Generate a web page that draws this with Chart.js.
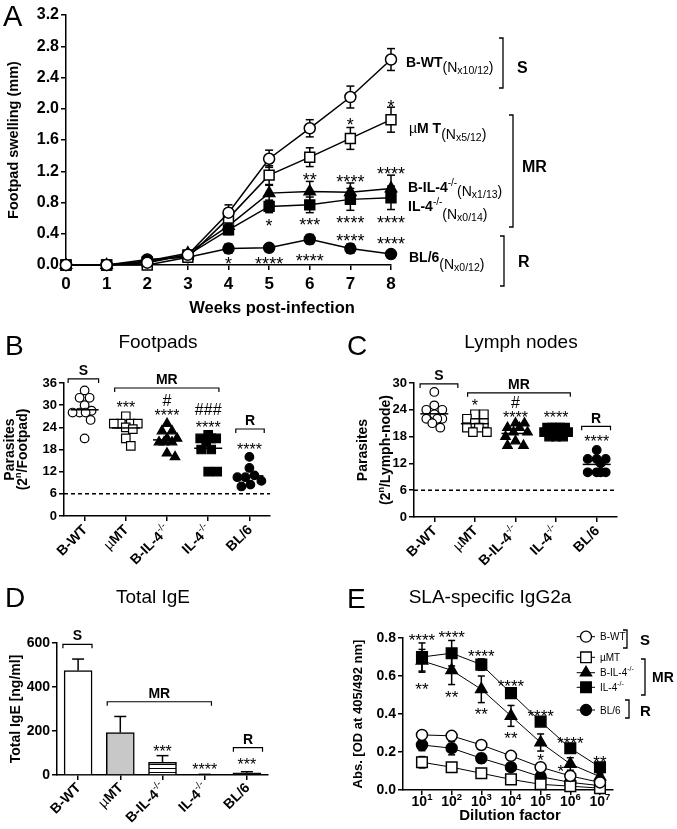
<!DOCTYPE html>
<html>
<head>
<meta charset="utf-8">
<script src="https://cdn.jsdelivr.net/npm/chart.js"></script>
<style>
  html, body { margin: 0; padding: 0; background: #fff; }
  #wrap { position: relative; width: 677px; height: 829px; overflow: hidden; background: #fff; }
  canvas { position: absolute; }
</style>
</head>
<body>
<div id="wrap">
  <canvas id="chartA" width="677" height="330" style="left:0px;top:0px"></canvas>
  <canvas id="chartB" width="338" height="255" style="left:0px;top:325px"></canvas>
  <canvas id="chartC" width="339" height="255" style="left:338px;top:325px"></canvas>
  <canvas id="chartD" width="338" height="249" style="left:0px;top:580px"></canvas>
  <canvas id="chartE" width="339" height="249" style="left:338px;top:580px"></canvas>
</div>
<script>
const FONT = '"Liberation Sans", Arial, Helvetica, sans-serif';
function F(size, bold) { return (bold ? 'bold ' : '') + size + 'px ' + FONT; }
Chart.defaults.font.family = FONT;
Chart.defaults.color = '#000';

// ---------- A: footpad swelling (mm) ----------
const weeks = [0, 1, 2, 3, 4, 5, 6, 7, 8];
const swellBWT = [0, 0, 0.03, 0.13, 0.67, 1.36, 1.75, 2.15, 2.63];
const swellBWTErr = [0, 0, 0.02, 0.03, 0.1, 0.11, 0.11, 0.14, 0.14];
const swellMuMT = [0, 0, 0.0, 0.1, 0.6, 1.15, 1.38, 1.62, 1.86];
const swellMuMTErr = [0, 0, 0.02, 0.03, 0.12, 0.12, 0.12, 0.14, 0.16];
const swellBIL4 = [0, 0, 0.05, 0.15, 0.5, 0.92, 0.94, 0.93, 0.98];
const swellBIL4Err = [0, 0, 0.02, 0.03, 0.08, 0.1, 0.13, 0.12, 0.17];
const swellIL4 = [0, 0, 0.04, 0.13, 0.45, 0.75, 0.77, 0.84, 0.86];
const swellIL4Err = [0, 0, 0.02, 0.03, 0.06, 0.08, 0.1, 0.14, 0.15];
const swellBL6 = [0, 0, 0.07, 0.1, 0.21, 0.22, 0.33, 0.21, 0.14];
const swellBL6Err = [0, 0, 0.01, 0.02, 0.06, 0.02, 0.06, 0.06, 0.02];

// ---------- B / C: parasites (2^n) ----------
const groups = ['B-WT', 'µMT', 'B-IL-4', 'IL-4', 'BL/6'];
const fpBWT = [34, 32, 32, 30, 28.5, 28, 28, 28, 26, 21];
const fpMuMT = [27, 25, 25, 25, 25, 24, 23.5, 21, 19];
const fpBIL4 = [25, 23, 23, 21, 21, 20, 20, 20, 17, 16];
const fpIL4 = [22, 21, 21, 21, 20, 18, 18, 12, 12];
const fpBL6 = [16, 13, 11, 10.5, 10.5, 9.5, 8.5, 8];
const lnBWT = [28, 25, 24, 24, 23, 22, 22, 22, 21, 20];
const lnMuMT = [23, 23, 22, 21, 21, 20, 20, 19, 19];
const lnBIL4 = [21, 21, 20, 20, 19, 19, 18, 17, 16, 16];
const lnIL4 = [20, 20, 20, 20, 20, 19, 19, 18, 18, 18];
const lnBL6 = [15, 13, 13, 13, 12, 10, 10, 10, 10];
const detectionLimit = 6;

// ---------- D: total IgE (ng/ml) ----------
const totalIgE = [475, 193, 58, 2, 10];
const totalIgEErr = [52, 73, 30, 1, 5];

// ---------- E: SLA-specific IgG2a ----------
const dilution = [1e1, 1e2, 1e3, 1e4, 1e5, 1e6, 1e7];
const odBWT = [0.29, 0.285, 0.237, 0.18, 0.12, 0.074, 0.04];
const odBWTErr = [0.01, 0.01, 0.01, 0.01, 0.01, 0.01, 0.01];
const odMuMT = [0.146, 0.12, 0.088, 0.056, 0.03, 0.02, 0.01];
const odMuMTErr = [0.03, 0.02, 0.01, 0.01, 0.01, 0.01, 0.005];
const odBIL4 = [0.68, 0.63, 0.53, 0.39, 0.25, 0.137, 0.07];
const odBIL4Err = [0.06, 0.075, 0.07, 0.055, 0.045, 0.033, 0.015];
const odIL4 = [0.70, 0.72, 0.66, 0.51, 0.36, 0.22, 0.12];
const odIL4Err = [0.074, 0.067, 0.03, 0.01, 0.01, 0.01, 0.01];
const odBL6 = [0.237, 0.22, 0.167, 0.12, 0.07, 0.04, 0.023];
const odBL6Err = [0.03, 0.035, 0.025, 0.02, 0.01, 0.01, 0.01];

// ---------- helpers ----------
function richText(ctx, x, y, parts, align) {
  ctx.textAlign = 'left';
  ctx.textBaseline = 'alphabetic';
  let w = 0;
  parts.forEach(p => { ctx.font = p[1]; w += ctx.measureText(p[0]).width; });
  let cx = align === 'center' ? x - w / 2 : align === 'right' ? x - w : x;
  parts.forEach(p => {
    ctx.font = p[1];
    ctx.fillText(p[0], cx, y + (p[2] || 0));
    cx += ctx.measureText(p[0]).width;
  });
}
function vertText(ctx, xBase, yCenter, parts) {
  ctx.save();
  ctx.translate(xBase, yCenter);
  ctx.rotate(-Math.PI / 2);
  richText(ctx, 0, 0, parts, 'center');
  ctx.restore();
}
function mark(ctx, x, y, s, size) {
  ctx.font = F(size, false);
  ctx.textAlign = 'center';
  ctx.textBaseline = 'alphabetic';
  const off = s.indexOf('#') >= 0 ? 0.36 : 0.6;
  ctx.fillText(s, x, y + off * size);
}
function line(ctx, pts, w) {
  ctx.beginPath();
  ctx.moveTo(pts[0][0], pts[0][1]);
  pts.slice(1).forEach(p => ctx.lineTo(p[0], p[1]));
  ctx.lineWidth = w || 1.5;
  ctx.strokeStyle = '#000';
  ctx.stroke();
}
function vBracket(ctx, x, y1, y2) { line(ctx, [[x - 4, y1], [x, y1], [x, y2], [x - 4, y2]], 1.3); }
function hBracket(ctx, x1, x2, y) { line(ctx, [[x1, y + 4], [x1, y], [x2, y], [x2, y + 4]], 1.2); }
function drawErr(ctx, x, yTop, yBot, cap) {
  line(ctx, [[x, yTop], [x, yBot]], 1.5);
  line(ctx, [[x - cap / 2, yTop], [x + cap / 2, yTop]], 1.5);
  line(ctx, [[x - cap / 2, yBot], [x + cap / 2, yBot]], 1.5);
}
function groupLabel(i, size) {
  const b = F(size, true), sup = F(Math.round(size * 0.7), false), up = -Math.round(size * 0.45);
  if (i === 1) return [['µ', F(size, false)], ['MT', b]];
  if (i === 2) return [['B-IL-4', b], ['-/-', sup, up]];
  if (i === 3) return [['IL-4', b], ['-/-', sup, up]];
  return [[groups[i], b]];
}
function catLabels(chart, size, dx, dy) {
  const ctx = chart.ctx, xs = chart.scales.x, bottom = chart.chartArea.bottom;
  ctx.fillStyle = '#000';
  groups.forEach((g, i) => {
    ctx.save();
    ctx.translate(xs.getPixelForValue(i) + dx, bottom + dy);
    ctx.rotate(-Math.PI / 4);
    richText(ctx, 0, size * 0.36, groupLabel(i, size), 'right');
    ctx.restore();
  });
}
function axisOpts(extra) {
  return Object.assign({
    grid: { display: true, drawOnChartArea: false, drawTicks: true, tickLength: 5, color: '#000', lineWidth: 1.5 },
    border: { display: true, color: '#000', width: 1.5 }
  }, extra);
}
// spread dots sideways so that they do not overlap (px offsets)
function swarm(vals, pxPerUnit, diam, maxHalf) {
  const placed = [];
  return vals.map(v => {
    const y = v * pxPerUnit;
    let best = 0, bestGap = -1;
    for (let k = 0; k <= 2 * maxHalf; k++) {
      const dx = k % 2 ? Math.ceil(k / 2) : -k / 2;
      let gap = Infinity;
      placed.forEach(p => { gap = Math.min(gap, Math.hypot(p[0] - dx, p[1] - y)); });
      if (gap >= diam) { best = dx; break; }
      if (gap > bestGap + 0.5) { best = dx; bestGap = gap; }
    }
    placed.push([best, y]);
    return best;
  });
}

const errorBars = {
  id: 'errorBars',
  beforeDatasetsDraw(chart) {
    const ctx = chart.ctx, ys = chart.scales.y;
    chart.data.datasets.forEach((ds, i) => {
      if (!ds.errs) return;
      chart.getDatasetMeta(i).data.forEach((el, j) => {
        const e = ds.errs[j];
        if (!e) return;
        const v = ds.data[j].y;
        drawErr(ctx, el.x, ys.getPixelForValue(v + e), ys.getPixelForValue(v - e), ds.capW || 8);
      });
    });
  }
};

// ================= A =================
function lineSet(label, vals, errs, xs, style, fill, r, lw, cap) {
  return {
    label: label,
    data: xs.map((x, i) => ({ x: x, y: vals[i] })),
    errs: errs, capW: cap,
    borderColor: '#000', borderWidth: lw,
    pointStyle: style, pointRadius: r, pointBackgroundColor: fill,
    pointBorderColor: '#000', pointBorderWidth: 1.5,
    tension: 0, fill: false, clip: false
  };
}

const starsA = [[4, 0.07, '*'], [5, 0.56, '*'], [5, 0.08, '****'], [6, 1.15, '**'], [6, 0.57, '***'],
  [6, 0.11, '****'], [7, 1.85, '*'], [7, 1.12, '****'], [7, 0.6, '****'], [7, 0.37, '****'],
  [8, 2.09, '*'], [8, 1.23, '****'], [8, 0.6, '****'], [8, 0.33, '****']];

const annoA = {
  id: 'annoA',
  afterDraw(chart) {
    const ctx = chart.ctx, xs = chart.scales.x, ys = chart.scales.y;
    ctx.save();
    ctx.fillStyle = '#000';
    starsA.forEach(s => mark(ctx, xs.getPixelForValue(s[0]), ys.getPixelForValue(s[1]), s[2], 18));
    const r14 = F(14, false), b14 = F(14, true), s11 = F(10.5, false), sup = F(10, false);
    richText(ctx, 406, 67, [['B-WT', b14], ['(N', r14, 5], ['x10/12', s11, 7], [')', r14, 5]], 'left');
    richText(ctx, 409, 133, [['µ', r14], ['M T', b14], ['(N', r14, 6], ['x5/12', s11, 8], [')', r14, 6]], 'left');
    richText(ctx, 408, 192, [['B-IL-4', b14], ['-/-', sup, -6], ['(N', r14, 4], ['x1/13', s11, 6], [')', r14, 4]], 'left');
    richText(ctx, 408, 211, [['IL-4', b14], ['-/-', sup, -6], ['(N', r14, 8], ['x0/14', s11, 10], [')', r14, 8]], 'left');
    richText(ctx, 409, 262, [['BL/6', b14], ['(N', r14, 7], ['x0/12', s11, 9], [')', r14, 7]], 'left');
    vBracket(ctx, 503, 38, 88);
    vBracket(ctx, 513, 115, 227);
    vBracket(ctx, 504, 236, 286);
    richText(ctx, 517, 73, [['S', F(16, true)]], 'left');
    richText(ctx, 522, 172, [['MR', F(16, true)]], 'left');
    richText(ctx, 518, 267, [['R', F(16, true)]], 'left');
    richText(ctx, 3, 26, [['A', F(29, false)]], 'left');
    richText(ctx, 272, 313, [['Weeks post-infection', F(16.5, true)]], 'center');
    vertText(ctx, 18, (chart.chartArea.top + chart.chartArea.bottom) / 2, [['Footpad swelling (mm)', F(14.5, true)]]);
    ctx.restore();
  }
};

new Chart(document.getElementById('chartA'), {
  type: 'line',
  data: {
    datasets: [
      lineSet('B-WT', swellBWT, swellBWTErr, weeks, 'circle', '#fff', 5.5, 1.5, 8),
      lineSet('µMT', swellMuMT, swellMuMTErr, weeks, 'rect', '#fff', 7, 1.5, 8),
      lineSet('B-IL-4', swellBIL4, swellBIL4Err, weeks, 'triangle', '#000', 6.5, 1.5, 8),
      lineSet('BL/6', swellBL6, swellBL6Err, weeks, 'circle', '#000', 5.5, 1.5, 8),
      lineSet('IL-4', swellIL4, swellIL4Err, weeks, 'rect', '#000', 7, 1.5, 8)
    ]
  },
  options: {
    animation: false, responsive: false, devicePixelRatio: 1,
    layout: { padding: { left: 0, right: 286, top: 15, bottom: 0 } },
    plugins: { legend: { display: false }, tooltip: { enabled: false } },
    scales: {
      x: axisOpts({
        type: 'linear', min: 0, max: 8,
        afterFit: s => { s.height = 65; },
        ticks: { stepSize: 1, font: { size: 17, weight: 'bold' }, padding: 4, color: '#000' }
      }),
      y: axisOpts({
        min: 0, max: 3.2,
        afterFit: s => { s.width = 66; },
        ticks: { stepSize: 0.4, font: { size: 16, weight: 'bold' }, padding: 2, color: '#000',
          callback: v => v.toFixed(1) }
      })
    }
  },
  plugins: [errorBars, annoA]
});

// ================= B / C =================
const dotStyles = [['circle', '#fff', 4.3], ['rect', '#fff', 6], ['triangle', '#000', 5.5], ['rect', '#000', 6], ['circle', '#000', 4.3]];

function dotChart(id, sets, cfg) {
  const pxPerUnit = cfg.plotH / cfg.yMax;
  const datasets = sets.map((vals, i) => {
    const off = swarm(vals, pxPerUnit, 8.5, 12);
    return {
      label: groups[i],
      data: vals.map((v, j) => ({ x: i + off[j] / cfg.catW, y: v })),
      pointStyle: dotStyles[i][0], pointRadius: dotStyles[i][2],
      backgroundColor: dotStyles[i][1], borderColor: '#000', borderWidth: 1.2, clip: false
    };
  });
  const anno = {
    id: 'anno' + id,
    beforeDatasetsDraw(chart) {
      const ctx = chart.ctx, a = chart.chartArea, y6 = chart.scales.y.getPixelForValue(detectionLimit);
      ctx.save();
      ctx.setLineDash([4, 3]);
      line(ctx, [[a.left, y6], [a.right, y6]], 1.5);
      ctx.restore();
    },
    afterDatasetsDraw(chart) {
      const ctx = chart.ctx, xs = chart.scales.x, ys = chart.scales.y;
      sets.forEach((vals, i) => {
        const m = vals.reduce((s, v) => s + v, 0) / vals.length;
        const y = ys.getPixelForValue(m), x = xs.getPixelForValue(i);
        line(ctx, [[x - 14, y], [x + 14, y]], 1.5);
      });
    },
    afterDraw(chart) {
      const ctx = chart.ctx, xs = chart.scales.x, ys = chart.scales.y, a = chart.chartArea;
      ctx.save();
      ctx.fillStyle = '#000';
      catLabels(chart, 14, 0, 11);
      cfg.brackets.forEach(b => {
        const x1 = xs.getPixelForValue(b[0]), x2 = xs.getPixelForValue(b[1]), y = ys.getPixelForValue(b[2]);
        hBracket(ctx, x1, x2, y);
        richText(ctx, (x1 + x2) / 2, y - 3.5, [[b[3], F(14, true)]], 'center');
      });
      cfg.marks.forEach(s => mark(ctx, xs.getPixelForValue(s[0]), ys.getPixelForValue(s[1]), s[2], 16));
      richText(ctx, cfg.letterX, 30, [[cfg.letter, F(28, false)]], 'left');
      richText(ctx, cfg.titleX, 23, [[cfg.title, F(19, false)]], 'center');
      const cy = (a.top + a.bottom) / 2;
      vertText(ctx, cfg.yTitleX[0], cy, [['Parasites', F(14, true)]]);
      vertText(ctx, cfg.yTitleX[1], cy, [['(2', F(14, true)], ['n', F(9, true), -6], [cfg.yUnit, F(14, true)]]);
      ctx.restore();
    }
  };
  new Chart(document.getElementById(id), {
    type: 'scatter',
    data: { datasets: datasets },
    options: {
      animation: false, responsive: false, devicePixelRatio: 1,
      layout: { padding: { left: 0, right: cfg.padRight, top: 58, bottom: 0 } },
      plugins: { legend: { display: false }, tooltip: { enabled: false } },
      scales: {
        x: axisOpts({
          type: 'linear', min: -0.5, max: 4.5,
          afterFit: s => { s.height = cfg.xH; },
          afterBuildTicks: s => { s.ticks = groups.map((g, i) => ({ value: i })); },
          ticks: { display: false }
        }),
        y: axisOpts({
          min: 0, max: cfg.yMax,
          afterFit: s => { s.width = cfg.yW; },
          ticks: { stepSize: 6, font: { size: 13, weight: 'bold' }, padding: 2, color: '#000' }
        })
      }
    },
    plugins: [anno]
  });
}

dotChart('chartB', [fpBWT, fpMuMT, fpBIL4, fpIL4, fpBL6], {
  yMax: 36, plotH: 133, catW: 41.2, padRight: 68, yW: 64, xH: 64,
  letter: 'B', letterX: 5, title: 'Footpads', titleX: 158, yTitleX: [14, 27], yUnit: '/Footpad)',
  brackets: [[-0.4, 0.34, 37.1, 'S'], [0.73, 3.26, 34.65, 'MR'], [3.67, 4.36, 23.55, 'R']],
  marks: [[1, 30.6, '***'], [2, 31.4, '#'], [2, 28.4, '****'], [3, 29, '###'], [3, 25.2, '****'], [4, 19.2, '****']]
});

dotChart('chartC', [lnBWT, lnMuMT, lnBIL4, lnIL4, lnBL6], {
  yMax: 30, plotH: 134, catW: 40.6, padRight: 60, yW: 76, xH: 63,
  letter: 'C', letterX: 9, title: 'Lymph nodes', titleX: 183, yTitleX: [29, 52], yUnit: '/Lymph-node)',
  brackets: [[-0.35, 0.58, 29.8, 'S'], [0.82, 3.35, 27.8, 'MR'], [3.63, 4.34, 20.3, 'R']],
  marks: [[1, 25.8, '*'], [2, 25.8, '#'], [2, 23.3, '****'], [3, 23.3, '****'], [4, 17.8, '****']]
});

// ================= D =================
function stripes() {
  const c = document.createElement('canvas');
  c.width = 4; c.height = 4;
  const g = c.getContext('2d');
  g.fillStyle = '#fff'; g.fillRect(0, 0, 4, 4);
  g.fillStyle = '#000'; g.fillRect(0, 0, 4, 1);
  return g.createPattern(c, 'repeat');
}

const bracketsD = [[-0.36, 0.33, 594, 'S'], [0.69, 3.16, 333, 'MR'], [3.68, 4.37, 124, 'R']];
const starsD = [[2, 125, '***'], [3, 43, '****'], [4, 66, '***']];

const annoD = {
  id: 'annoD',
  afterDatasetsDraw(chart) {
    const ctx = chart.ctx, ys = chart.scales.y, ds = chart.data.datasets[0];
    chart.getDatasetMeta(0).data.forEach((el, j) => {
      const top = ys.getPixelForValue(ds.data[j] + ds.errs[j]);
      line(ctx, [[el.x, el.y], [el.x, top]], 1.5);
      line(ctx, [[el.x - 6, top], [el.x + 6, top]], 1.5);
    });
  },
  afterDraw(chart) {
    const ctx = chart.ctx, xs = chart.scales.x, ys = chart.scales.y, a = chart.chartArea;
    ctx.save();
    ctx.fillStyle = '#000';
    catLabels(chart, 14, 0, 10);
    bracketsD.forEach(b => {
      const x1 = xs.getPixelForValue(b[0]), x2 = xs.getPixelForValue(b[1]), y = ys.getPixelForValue(b[2]);
      hBracket(ctx, x1, x2, y);
      richText(ctx, (x1 + x2) / 2, y - 4, [[b[3], F(14, true)]], 'center');
    });
    starsD.forEach(s => mark(ctx, xs.getPixelForValue(s[0]), ys.getPixelForValue(s[1]), s[2], 16));
    richText(ctx, 5, 27, [['D', F(28, false)]], 'left');
    richText(ctx, 153, 23, [['Total IgE', F(19, false)]], 'center');
    vertText(ctx, 20, (a.top + a.bottom) / 2, [['Total IgE [ng/ml]', F(14, true)]]);
    ctx.restore();
  }
};

new Chart(document.getElementById('chartD'), {
  type: 'bar',
  data: {
    labels: groups,
    datasets: [{
      data: totalIgE, errs: totalIgEErr,
      backgroundColor: ['#fff', '#c8c8c8', stripes(), '#000', '#000'],
      borderColor: '#000', borderWidth: 1.5, barThickness: 28
    }]
  },
  options: {
    animation: false, responsive: false, devicePixelRatio: 1,
    layout: { padding: { left: 0, right: 70, top: 63, bottom: 0 } },
    plugins: { legend: { display: false }, tooltip: { enabled: false } },
    scales: {
      x: axisOpts({
        type: 'category', offset: true,
        afterFit: s => { s.height = 54; },
        ticks: { display: false },
        grid: { display: true, drawOnChartArea: false, drawTicks: true, tickLength: 5, color: '#000', lineWidth: 1.5, offset: false }
      }),
      y: axisOpts({
        min: 0, max: 600,
        afterFit: s => { s.width = 57; },
        ticks: { stepSize: 200, font: { size: 14, weight: 'bold' }, padding: 2, color: '#000' }
      })
    }
  },
  plugins: [annoD]
});

// ================= E =================
const starsE = [[1e1, 0.81, '****'], [1e1, 0.553, '**'], [1e2, 0.825, '****'], [1e2, 0.512, '**'],
  [1e3, 0.73, '****'], [1e3, 0.42, '**'], [1e4, 0.57, '****'], [1e4, 0.298, '**'],
  [1e5, 0.41, '****'], [1e5, 0.18, '*'], [1e6, 0.27, '****'], [4.8e5, 0.12, '*'], [1e7, 0.167, '**']];
const legendRowsE = [['B-WT', 56.7], ['µMT', 77.3], ['B-IL-4', 92.7], ['IL-4', 107.3], ['BL/6', 130]];

const annoE = {
  id: 'annoE',
  afterDraw(chart) {
    const ctx = chart.ctx, xs = chart.scales.x, ys = chart.scales.y, a = chart.chartArea;
    ctx.save();
    ctx.fillStyle = '#000';
    dilution.forEach((d, i) => {
      richText(ctx, xs.getPixelForValue(d), 226, [['10', F(14, true)], [String(i + 1), F(9.5, true), -6]], 'center');
    });
    starsE.forEach(s => mark(ctx, xs.getPixelForValue(s[0]), ys.getPixelForValue(s[1]), s[2], 17));
    // legend
    legendRowsE.forEach(row => {
      const ds = chart.data.datasets.find(d => d.label === row[0]);
      const y = row[1];
      line(ctx, [[238.7, y], [257, y]], 1);
      ctx.fillStyle = ds.pointBackgroundColor;
      ctx.strokeStyle = '#000';
      ctx.lineWidth = 1.3;
      Chart.helpers.drawPoint(ctx, { pointStyle: ds.pointStyle, radius: ds.pointRadius, borderWidth: 1.3, rotation: 0 }, 248, y);
      ctx.fillStyle = '#000';
      const i = groups.indexOf(row[0]);
      const parts = i === 1 ? [['µMT', F(10, false)]] :
        (i === 2 || i === 3) ? [[row[0], F(10, false)], ['-/-', F(7, false), -5]] : [[row[0], F(10, false)]];
      richText(ctx, 262, y + 3.5, parts, 'left');
    });
    vBracket(ctx, 289, 50, 68);
    vBracket(ctx, 307, 79, 115);
    vBracket(ctx, 291, 120, 138);
    richText(ctx, 302, 65, [['S', F(15, true)]], 'left');
    richText(ctx, 314, 102, [['MR', F(14, true)]], 'left');
    richText(ctx, 302, 136, [['R', F(15, true)]], 'left');
    richText(ctx, 9, 28, [['E', F(28, false)]], 'left');
    richText(ctx, 152, 23, [['SLA-specific IgG2a', F(19, false)]], 'center');
    richText(ctx, 172, 240, [['Dilution factor', F(15, true)]], 'center');
    vertText(ctx, 24, (a.top + a.bottom) / 2, [['Abs. [OD at 405/492 nm]', F(13, true)]]);
    ctx.restore();
  }
};

new Chart(document.getElementById('chartE'), {
  type: 'line',
  data: {
    datasets: [
      lineSet('B-WT', odBWT, odBWTErr, dilution, 'circle', '#fff', 5.5, 1, 7),
      lineSet('µMT', odMuMT, odMuMTErr, dilution, 'rect', '#fff', 7.5, 1, 7),
      lineSet('BL/6', odBL6, odBL6Err, dilution, 'circle', '#000', 5.5, 1, 7),
      lineSet('B-IL-4', odBIL4, odBIL4Err, dilution, 'triangle', '#000', 6.5, 1, 7),
      lineSet('IL-4', odIL4, odIL4Err, dilution, 'rect', '#000', 7.5, 1, 7)
    ]
  },
  options: {
    animation: false, responsive: false, devicePixelRatio: 1,
    layout: { padding: { left: 0, right: 64, top: 58, bottom: 0 } },
    plugins: { legend: { display: false }, tooltip: { enabled: false } },
    scales: {
      x: axisOpts({
        type: 'logarithmic', min: 2.29, max: 2.75e7,
        afterFit: s => { s.height = 39; },
        afterBuildTicks: s => { s.ticks = dilution.map(d => ({ value: d })); },
        ticks: { display: false }
      }),
      y: axisOpts({
        min: 0, max: 0.8,
        afterFit: s => { s.width = 65; },
        ticks: { stepSize: 0.2, font: { size: 14, weight: 'bold' }, padding: 2, color: '#000',
          callback: v => v.toFixed(1) }
      })
    }
  },
  plugins: [errorBars, annoE]
});
</script>
</body>
</html>
